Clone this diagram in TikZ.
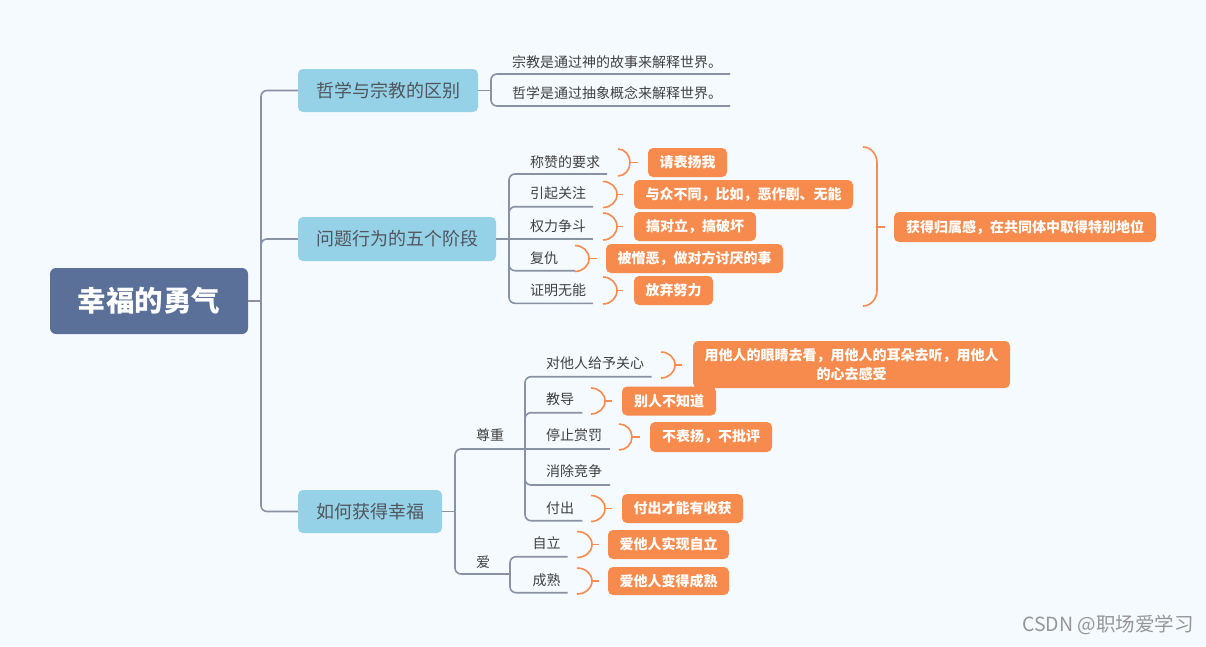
\documentclass[tikz,border=0pt]{standalone}
\usepackage{fontspec}
\newfontfamily\cjk{Noto Sans CJK SC}
\definecolor{bgc}{RGB}{245,250,254}
\definecolor{linec}{RGB}{137,146,164}
\definecolor{bluec}{RGB}{150,210,231}
\definecolor{rootc}{RGB}{90,112,152}
\definecolor{orc}{RGB}{246,139,77}
\definecolor{lblc}{RGB}{64,64,64}
\definecolor{l1c}{RGB}{80,86,94}
\definecolor{wmc}{RGB}{150,150,150}
\newcommand\Brk[5]{%
  \draw[brace] (#1,#2) to[out=0,in=90] (#4,{(#2+#3)/2}) to[out=-90,in=0] (#1,#3);
  \draw[brace] (#4,{(#2+#3)/2}) -- (#5,{(#2+#3)/2});}
\begin{document}
\begin{tikzpicture}[x=1pt,y=-1pt,
  conn/.style={draw=linec, line width=1.6pt, rounded corners=6pt},
  brace/.style={draw=orc, line width=1.6pt},
  lvl1/.style={fill=bluec, rounded corners=5pt, text=l1c, inner sep=0,
    font=\cjk\fontsize{18}{20}\selectfont},
  rootbox/.style={fill=rootc, rounded corners=6pt, text=white, inner sep=0,
    font=\cjk\bfseries\fontsize{28.5}{32}\selectfont},
  obox/.style={fill=orc, rounded corners=5pt, text=white, inner sep=0, align=center,
    minimum height=29pt, font=\cjk\bfseries\fontsize{14}{18.5}\selectfont},
  lbl/.style={font=\cjk\fontsize{14}{16}\selectfont, text=lblc, inner sep=0, anchor=west}]
\fill[bgc] (0,0) rectangle (1206,646);
\useasboundingbox (0,0) rectangle (1206,646);

% main nodes
\node[rootbox, minimum width=198pt, minimum height=66pt] (root) at (149,301) {幸福的勇气};
\node[lvl1, minimum width=180pt, minimum height=43pt] (b1) at (388,90.5) {哲学与宗教的区别};
\node[lvl1, minimum width=198pt, minimum height=44pt] (b2) at (397,239) {问题行为的五个阶段};
\node[lvl1, minimum width=144pt, minimum height=43pt] (b3) at (370,511.5) {如何获得幸福};

% trunk
\coordinate (j0) at (261,301);
\draw[conn] (root.east) -- (j0);
\draw[conn] (j0) |- (b1.west);
\draw[conn] (j0) |- (b2.west);
\draw[conn] (j0) |- (b3.west);

% branch 1
\node[lbl] (t11) at (512,61.7) {宗教是通过神的故事来解释世界。};
\node[lbl] (t12) at (512,92.7) {哲学是通过抽象概念来解释世界。};
\coordinate (j1) at (491,90.5);
\coordinate (u11) at (730,74);
\coordinate (u12) at (730,106);
\draw[conn] (b1.east) -- (j1);
\draw[conn] (j1) |- (u11);
\draw[conn] (j1) |- (u12);

% branch 2
\node[lbl] (t21) at (530,161.7) {称赞的要求};
\node[lbl] (t22) at (530,193) {引起关注};
\node[lbl] (t23) at (530,226) {权力争斗};
\node[lbl] (t24) at (530,258) {复仇};
\node[lbl] (t25) at (530,290) {证明无能};
\coordinate (j2) at (509,239);
\coordinate (u21) at (607,174);
\coordinate (u22) at (593,206.7);
\coordinate (u23) at (593,239);
\coordinate (u24) at (575,270.7);
\coordinate (u25) at (593,303.3);
\draw[conn] (b2.east) -- (u23);
\draw[conn] (j2) |- (u21);
\draw[conn] (j2) |- (u22);
\draw[conn] (j2) |- (u24);
\draw[conn] (j2) |- (u25);

\node[obox, minimum width=79pt] (o21) at (687.5,162.5) {请表扬我};
\node[obox, minimum width=219pt] (o22) at (743.5,194.5) {与众不同，比如，恶作剧、无能};
\node[obox, minimum width=122pt] (o23) at (695,226.5) {搞对立，搞破坏};
\node[obox, minimum width=177pt] (o24) at (694.5,258.5) {被憎恶，做对方讨厌的事};
\node[obox, minimum width=79pt] (o25) at (673.5,290.5) {放弃努力};
\Brk{618}{149}{176}{630}{638}
\Brk{603}{181.5}{207.5}{617}{623}
\Brk{603}{213}{240}{617}{623}
\Brk{575}{245.5}{271.5}{589}{597}
\Brk{603}{277}{304}{617}{623}

\node[obox, minimum width=262pt, minimum height=30pt] (o26) at (1025,227) {获得归属感，在共同体中取得特别地位};
\draw[brace] (863,147) to[out=0,in=90] (877,163) -- (877,290) to[out=-90,in=0] (863,306);
\draw[brace] (877,227) -- (885,227);

% branch 3
\coordinate (j3) at (455,511.5);
\coordinate (k1) at (525,449);
\coordinate (k2) at (510,574);
\draw[conn] (b3.east) -- (j3);
\draw[conn] (j3) |- (k1);
\draw[conn] (j3) |- (k2);
\node[lbl] (s1) at (476,435) {尊重};
\node[lbl] (s2) at (476,562) {爱};

\node[lbl] (t31) at (546,363) {对他人给予关心};
\node[lbl] (t32) at (546,399) {教导};
\node[lbl] (t33) at (546,435) {停止赏罚};
\node[lbl] (t34) at (546,471) {消除竞争};
\node[lbl] (t35) at (546,508) {付出};
\coordinate (u31) at (651.6,376.7);
\coordinate (u32) at (582.4,412.7);
\coordinate (u33) at (610,449);
\coordinate (u34) at (610,485);
\coordinate (u35) at (582.4,520.7);
\draw[conn] (k1) |- (u31);
\draw[conn] (k1) |- (u32);
\draw[conn] (k1) -- (u33);
\draw[conn] (k1) |- (u34);
\draw[conn] (k1) |- (u35);

\node[lbl] (t41) at (532.5,543) {自立};
\node[lbl] (t42) at (532.5,580) {成熟};
\coordinate (u41) at (567.6,556.7);
\coordinate (u42) at (567.6,592.7);
\draw[conn] (k2) |- (u41);
\draw[conn] (k2) |- (u42);

\node[obox, minimum width=317pt, minimum height=47pt] (o31) at (851.5,364.5) {用他人的眼睛去看，用他人的耳朵去听，用他人\\的心去感受};
\node[obox, minimum width=94pt] (o32) at (669,401) {别人不知道};
\node[obox, minimum width=122pt, minimum height=30pt] (o33) at (711,437) {不表扬，不批评};
\node[obox, minimum width=121pt] (o35) at (682.5,508.5) {付出才能有收获};
\node[obox, minimum width=121pt] (o41) at (668.5,544.5) {爱他人实现自立};
\node[obox, minimum width=121pt, minimum height=28pt] (o42) at (668.5,581) {爱他人变得成熟};
\Brk{661}{352}{378}{675}{682}
\Brk{591}{388}{414}{605}{612}
\Brk{619}{424}{450}{632}{640}
\Brk{591}{495.5}{521.5}{605}{612}
\Brk{577}{531.5}{557.5}{592}{599}
\Brk{577}{568}{594}{592}{599}

% watermark
\node[anchor=west, inner sep=0, text=wmc, font=\cjk\fontsize{19.5}{22}\selectfont] (wm) at (1022,625) {CSDN @职场爱学习};
\end{tikzpicture}
\end{document}
